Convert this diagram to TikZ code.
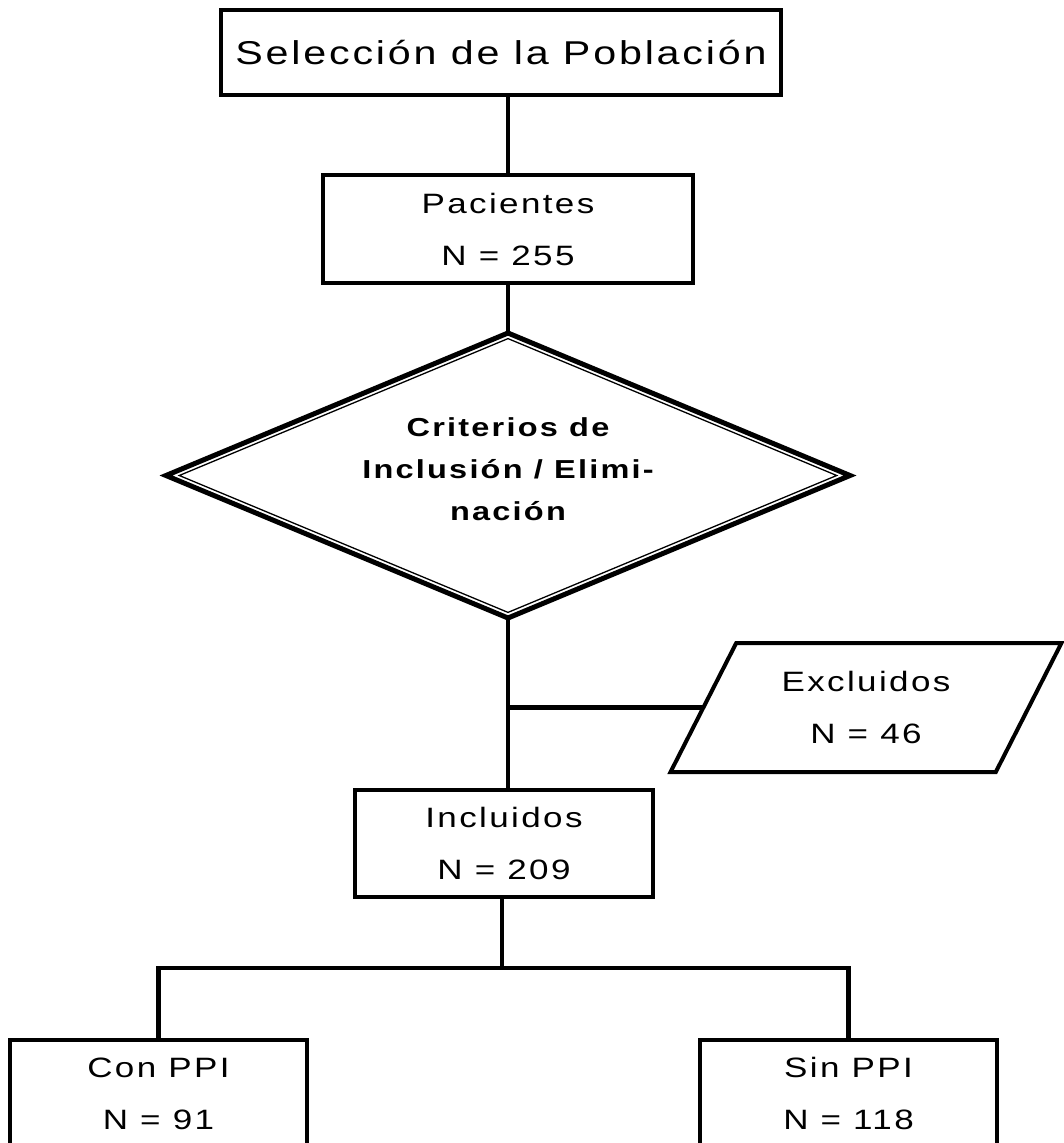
\documentclass[tikz,border=0pt]{standalone}
\usepackage{fontspec}
\setmainfont{Liberation Sans}
\newfontfamily\widefont[FakeStretch=1.25,LetterSpace=8.5]{Liberation Sans}
\usetikzlibrary{shapes.geometric}
\begin{document}
\begin{tikzpicture}[x=1pt,y=1pt,
  box/.style={draw, line width=4pt, inner sep=0pt, outer sep=0pt, align=center,
    font=\widefont\fontsize{28}{52}\selectfont},
  conn/.style={line width=4.5pt},
]
\useasboundingbox (0,0) rectangle (1064,-1143);
\clip (0,0) rectangle (1064,-1143);
\fill[white] (0,0) rectangle (1064,-1143);

\node[box, minimum width=560pt, minimum height=85pt,
  font=\widefont\fontsize{33}{40}\selectfont] (title) at (501,-52.5) {Selección de la Población};
\node[box, minimum width=370pt, minimum height=108pt] (pac) at (508,-229) {Pacientes\\N = 255};
\node[draw, diamond, line width=5pt, inner sep=0pt, outer sep=0pt,
  minimum width=684pt, minimum height=285pt] (crit) at (508,-475.5) {};
\draw[line width=1.3pt] ([yshift=-5.6pt]crit.north) -- ([xshift=-13.3pt]crit.east)
  -- ([yshift=5.6pt]crit.south) -- ([xshift=13.3pt]crit.west) -- cycle;
\node[align=center, inner sep=0pt, font=\widefont\bfseries\fontsize{26}{42}\selectfont]
  (crittext) at (508,-469) {Criterios de\\Inclusión / Elimi-\\nación};
\node[box, trapezium, trapezium left angle=59.5, trapezium right angle=120.5,
  trapezium stretches=true, minimum width=392pt, minimum height=129pt] (exc) at (866,-707.5)
  {Excluidos\\N = 46};
\node[box, minimum width=298pt, minimum height=107pt] (incl) at (504,-843.5) {Incluidos\\N = 209};
\node[box, minimum width=297pt, minimum height=107pt] (con) at (158.5,-1093.5) {Con PPI\\N = 91};
\node[box, minimum width=297pt, minimum height=107pt] (sin) at (848.5,-1093.5) {Sin PPI\\N = 118};
\coordinate (fork) at (502,-968);

\draw[conn] (pac.north |- title.south) -- (pac.north);
\draw[conn] (pac.south) -- (crit.north);
\draw[conn] (crit.south) -- (crit.south |- incl.north);
\draw[conn] (exc.west) -- (exc.west -| crit.south);
\draw[conn] (incl.south -| fork) -- (fork);
\draw[conn] (con.north) |- (fork) -| (sin.north);
\end{tikzpicture}
\end{document}
